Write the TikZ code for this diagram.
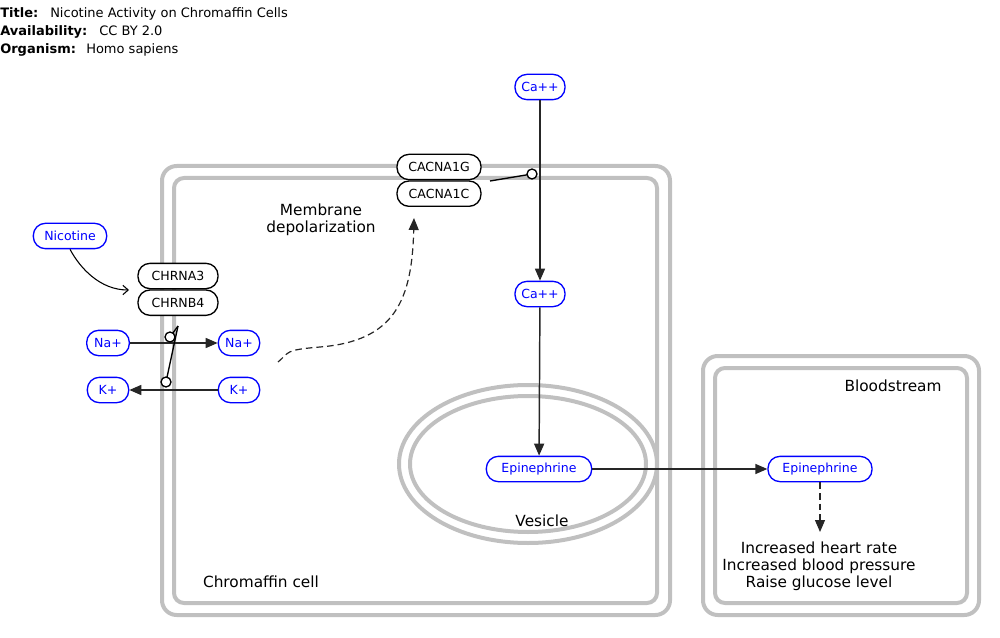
\documentclass[tikz,border=0pt]{standalone}
\usepackage{fontspec}
\setmainfont{DejaVu Sans}
\usetikzlibrary{arrows.meta, positioning, calc}
\definecolor{PathBlue}{rgb}{0, 0, 1}
\definecolor{CompGray}{RGB}{192, 192, 192}

\begin{document}
\begin{tikzpicture}[
    x=0.75pt, y=-0.75pt,
    font=\fontsize{9.4}{11}\selectfont,
    flow/.style={-{Triangle[length=9pt, width=7.5pt]}, line width=1.1pt, black!85},
    metab/.style={draw=PathBlue, text=PathBlue, fill=white, line width=1pt,
        rounded corners=9pt, minimum height=19pt, inner sep=0pt},
    gene/.style={draw=black, fill=white, line width=1pt,
        rounded corners=9pt, minimum height=19pt, inner sep=0pt},
    comp/.style={draw=CompGray, line width=3pt},
    anchorpt/.style={circle, draw, fill=white, line width=1pt, minimum size=7.5pt, inner sep=0pt},
    areatext/.style={font=\fontsize{11.5}{12.75}\selectfont, align=center, inner sep=0pt},
    headkey/.style={anchor=base west, inner sep=0pt, font=\fontsize{9.75}{11}\selectfont\bfseries},
    headval/.style={anchor=base west, inner sep=0pt, font=\fontsize{9.75}{11}\selectfont},
]
\useasboundingbox (0,0) rectangle (1000,638);

% kopfzeilen
\node[headkey] (titlekey) at (0,18) {Title:};
\node[headval] (titleval) at (50,18) {Nicotine Activity on Chromaffin Cells};
\node[headkey] (availkey) at (0,36) {Availability:};
\node[headval] (availval) at (99,36) {CC BY 2.0};
\node[headkey] (orgkey) at (0,54) {Organism:};
\node[headval] (orgval) at (86,54) {Homo sapiens};

% kompartimente
\draw[comp, rounded corners=11pt] (162,166) rectangle (670,615);
\draw[comp, rounded corners=7.5pt] (174,178) rectangle (657,603);
\draw[comp, rounded corners=11pt] (703,356) rectangle (979,615);
\draw[comp, rounded corners=7.5pt] (715,368) rectangle (967,603);
\draw[comp] (528,464) ellipse [x radius=96.75pt, y radius=59.25pt];
\draw[comp] (528,464) ellipse [x radius=88.5pt, y radius=51pt];

% metabolite
\node[metab, minimum width=37.5pt] (ca1) at (540,87) {Ca++};
\node[metab, minimum width=37.5pt] (ca2) at (540,294) {Ca++};
\node[metab, minimum width=55pt] (nicotine) at (70,236) {Nicotine};
\node[metab, minimum width=32pt] (na1) at (108,343) {Na+};
\node[metab, minimum width=31pt] (na2) at (239,343) {Na+};
\node[metab, minimum width=31pt] (k1) at (108,390) {K+};
\node[metab, minimum width=31pt] (k2) at (239,390) {K+};
\node[metab, minimum width=79pt] (epi1) at (539,469) {Epinephrine};
\node[metab, minimum width=78pt] (epi2) at (820,469) {Epinephrine};

% genprodukte
\node[gene, minimum width=60pt] (chrna3) at (178,276) {CHRNA3};
\node[gene, minimum width=60pt, below=0pt of chrna3] (chrnb4) {CHRNB4};
\node[gene, minimum width=63pt] (cacna1g) at (439,167) {CACNA1G};
\node[gene, minimum width=63pt, below=0pt of cacna1g] (cacna1c) {CACNA1C};

% freie enden
\coordinate (nicend) at (129,290);
\coordinate (gate) at (178,326);
\coordinate (cagate) at (490,181);
\coordinate (depolstart) at (278,362);
\coordinate (depolend) at (414,218);
\coordinate (effecttip) at (820,532);

% verbindungen
\draw[flow] (ca1) -- (ca2);
\draw[flow] (ca2) -- (epi1);
\draw[flow] (epi1) -- (epi2);
\draw[flow] (na1) -- (na2);
\draw[flow] (k2) -- (k1);
\draw[-{Straight Barb[length=4pt, width=7pt]}, line width=0.8pt]
    (nicotine.south) .. controls (80,268) and (100,290) .. (nicend);
\draw[flow, dash pattern=on 5pt off 3pt, line width=0.9pt]
    (depolstart) .. controls (290,352) and (284,350) .. (320,347)
    .. controls (395,341) and (412,300) .. (depolend);
\draw[flow, dash pattern=on 5pt off 3pt, line width=0.9pt] (epi2) -- (effecttip);

% bindestellen
\draw[line width=1pt] (gate) -- (170,337);
\draw[line width=1pt] (gate) -- (166,382);
\draw[line width=1pt] (cagate) -- (532,174);
\node[anchorpt] (nagate) at (170,337) {};
\node[anchorpt] (kgate) at (166,382) {};
\node[anchorpt] (cacirc) at (532,174) {};

% beschriftungen
\node[areatext] (depol) at (321,220) {Membrane\\depolarization};
\node[areatext] (cellname) at (261,582) {Chromaffin cell};
\node[areatext] (vesname) at (542,521) {Vesicle};
\node[areatext] (bloodname) at (893,386) {Bloodstream};
\node[areatext] (effects) at (819,566) {Increased heart rate\\Increased blood pressure\\Raise glucose level};

\end{tikzpicture}
\end{document}
